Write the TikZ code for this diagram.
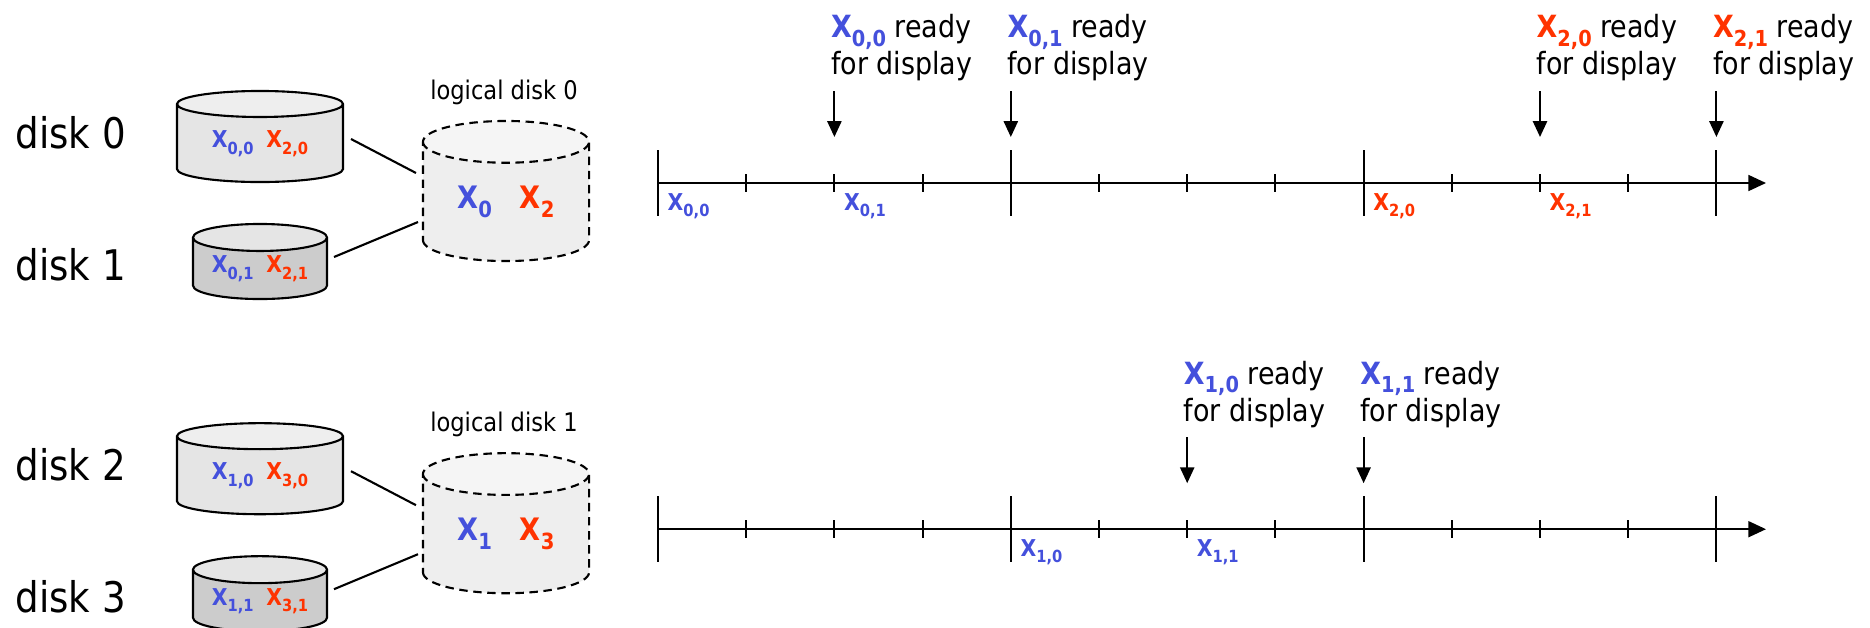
\documentclass[tikz,border=0pt]{standalone}
\usepackage{fontspec}
\setmainfont{DejaVu Sans}[FakeStretch=0.88]
\usetikzlibrary{shapes.geometric,arrows.meta,calc}

\definecolor{xblue}{RGB}{68,80,220}
\definecolor{xred}{RGB}{255,51,0}
\definecolor{diskfill}{RGB}{229,229,229}
\definecolor{disktop}{RGB}{238,238,238}
\definecolor{darkfill}{RGB}{204,204,204}
\definecolor{darktop}{RGB}{229,229,229}
\definecolor{logfill}{RGB}{238,238,238}
\definecolor{logtop}{RGB}{245,245,245}

\newcommand{\subidx}[1]{\raisebox{-0.28em}{\scalebox{0.72}{#1}}}
\newcommand{\bluex}[1]{\textcolor{xblue}{\bfseries X\subidx{#1}}}
\newcommand{\redx}[1]{\textcolor{xred}{\bfseries X\subidx{#1}}}

\tikzset{
  disklabel/.style={anchor=base west, inner sep=0, font=\fontsize{12}{14}\selectfont},
  loglabel/.style={anchor=base, inner sep=0, font=\fontsize{7.3}{9}\selectfont},
  physdisk/.style={cylinder, shape border rotate=90, draw, semithick, anchor=shape center,
    cylinder uses custom fill, cylinder body fill=diskfill, cylinder end fill=disktop,
    font=\fontsize{6.6}{8}\selectfont, inner sep=0},
  darkdisk/.style={physdisk, cylinder body fill=darkfill, cylinder end fill=darktop},
  logdisk/.style={physdisk, dash pattern=on 2.4pt off 1.6pt,
    cylinder body fill=logfill, cylinder end fill=logtop, font=\fontsize{8.8}{10}\selectfont},
  link/.style={semithick},
  axis/.style={semithick, -{Triangle[length=5pt,width=4.5pt]}},
  readyarrow/.style={semithick, -{Triangle[length=4.5pt,width=4pt]}},
  readylabel/.style={anchor=north west, align=left, inner sep=0, font=\fontsize{8.7}{10.5}\selectfont},
  blocklabel/.style={anchor=base west, inner sep=0, font=\fontsize{6.6}{8}\selectfont},
}

\begin{document}
\begin{tikzpicture}[x=0.01cm, y=-0.01cm]
  \useasboundingbox (0,0) rectangle (1870,627);

  % Logical disk 0
  \begin{scope}
    \node[disklabel] (d0) at (15,148) {disk 0};
    \node[disklabel] (d1) at (15,280) {disk 1};
    \node[physdisk, minimum width=1.66cm, minimum height=0.91cm, aspect=0.27] (c0) at (260,136.5) {\bluex{0,0}\hspace{0.55em}\redx{2,0}};
    \node[darkdisk, minimum width=1.34cm, minimum height=0.75cm, aspect=0.28] (c1) at (260,261.5) {\bluex{0,1}\hspace{0.55em}\redx{2,1}};
    \node[logdisk, minimum width=1.66cm, minimum height=1.4cm, aspect=0.43] (l0) at (506,191) {\bluex{0}\hspace{0.9em}\redx{2}};
    \node[loglabel] (n0) at (504,99) {logical disk 0};
    \draw[link] ($(c0.shape center)+(91,2.5)$) -- ($(l0.shape center)+(-90,-18)$);
    \draw[link] ($(c1.shape center)+(74,-4.5)$) -- ($(l0.shape center)+(-88,31)$);
  \end{scope}

  % Timeline of logical disk 0
  \begin{scope}
    \foreach \i in {0,...,12} \coordinate (t\i) at ({658+88.2*\i},183);
    \coordinate (tend) at (1766,183);
    \draw[axis] (t0) -- (tend);
    \foreach \i in {0,4,8,12} \draw[semithick] ($(t\i)+(0,-33)$) -- ($(t\i)+(0,33)$);
    \foreach \i in {1,2,3,5,6,7,9,10,11} \draw[semithick] ($(t\i)+(0,-9)$) -- ($(t\i)+(0,9)$);
    \node[blocklabel] (b00) at ($(t0)+(9,27)$) {\bluex{0,0}};
    \node[blocklabel] (b01) at ($(t2)+(9,27)$) {\bluex{0,1}};
    \node[blocklabel] (b20) at ($(t8)+(9,27)$) {\redx{2,0}};
    \node[blocklabel] (b21) at ($(t10)+(9,27)$) {\redx{2,1}};
    \node[readylabel] (r00) at ($(t2)+(-4,-169)$) {\bluex{0,0} ready\\for display};
    \node[readylabel] (r01) at ($(t4)+(-4,-169)$) {\bluex{0,1} ready\\for display};
    \node[readylabel] (r20) at ($(t10)+(-4,-169)$) {\redx{2,0} ready\\for display};
    \node[readylabel] (r21) at ($(t12)+(-4,-169)$) {\redx{2,1} ready\\for display};
    \foreach \i in {2,4,10,12} \draw[readyarrow] ($(t\i)+(0,-92)$) -- ($(t\i)+(0,-46)$);
  \end{scope}

  % Logical disk 1
  \begin{scope}[yshift=-3.32cm]
    \node[disklabel] (d2) at (15,148) {disk 2};
    \node[disklabel] (d3) at (15,280) {disk 3};
    \node[physdisk, minimum width=1.66cm, minimum height=0.91cm, aspect=0.27] (c2) at (260,136.5) {\bluex{1,0}\hspace{0.55em}\redx{3,0}};
    \node[darkdisk, minimum width=1.34cm, minimum height=0.75cm, aspect=0.28] (c3) at (260,261.5) {\bluex{1,1}\hspace{0.55em}\redx{3,1}};
    \node[logdisk, minimum width=1.66cm, minimum height=1.4cm, aspect=0.43] (l1) at (506,191) {\bluex{1}\hspace{0.9em}\redx{3}};
    \node[loglabel] (n1) at (504,99) {logical disk 1};
    \draw[link] ($(c2.shape center)+(91,2.5)$) -- ($(l1.shape center)+(-90,-18)$);
    \draw[link] ($(c3.shape center)+(74,-4.5)$) -- ($(l1.shape center)+(-88,31)$);
  \end{scope}

  % Timeline of logical disk 1
  \begin{scope}[yshift=-3.46cm]
    \foreach \i in {0,...,12} \coordinate (u\i) at ({658+88.2*\i},183);
    \coordinate (uend) at (1766,183);
    \draw[axis] (u0) -- (uend);
    \foreach \i in {0,4,8,12} \draw[semithick] ($(u\i)+(0,-33)$) -- ($(u\i)+(0,33)$);
    \foreach \i in {1,2,3,5,6,7,9,10,11} \draw[semithick] ($(u\i)+(0,-9)$) -- ($(u\i)+(0,9)$);
    \node[blocklabel] (b10) at ($(u4)+(9,27)$) {\bluex{1,0}};
    \node[blocklabel] (b11) at ($(u6)+(9,27)$) {\bluex{1,1}};
    \node[readylabel] (r10) at ($(u6)+(-4,-169)$) {\bluex{1,0} ready\\for display};
    \node[readylabel] (r11) at ($(u8)+(-4,-169)$) {\bluex{1,1} ready\\for display};
    \foreach \i in {6,8} \draw[readyarrow] ($(u\i)+(0,-92)$) -- ($(u\i)+(0,-46)$);
  \end{scope}
\end{tikzpicture}
\end{document}
